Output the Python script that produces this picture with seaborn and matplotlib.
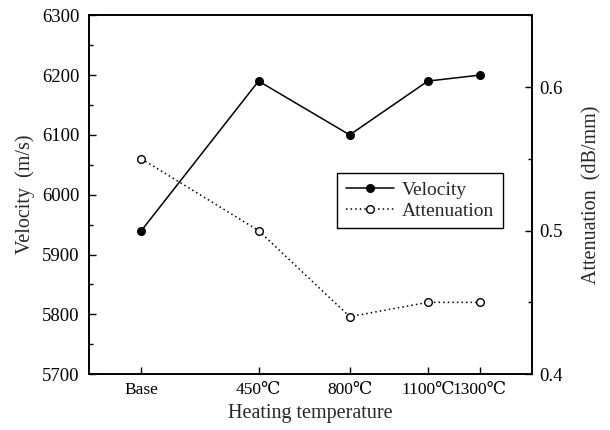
import matplotlib
matplotlib.use("Agg")
import matplotlib.pyplot as plt
import seaborn as sns
from matplotlib.ticker import MultipleLocator

# Heating temperature (Base = as-received, plotted at 0)
temps = [0, 450, 800, 1100, 1300]
tick_labels = ["Base", "450℃", "800℃", "1100℃", "1300℃"]
velocity = [5940, 6190, 6100, 6190, 6200]          # m/s
attenuation = [0.55, 0.50, 0.44, 0.45, 0.45]        # dB/mm

sns.set_style("white")
plt.rcParams["font.family"] = ["Liberation Serif", "DejaVu Serif"]
plt.rcParams["axes.linewidth"] = 1.2

fig = plt.figure(figsize=(6.1, 4.3), dpi=100)
ax = fig.add_axes([0.1464, 0.130, 0.7257, 0.8344])
ax2 = ax.twinx()

sns.lineplot(x=temps, y=velocity, ax=ax, color="black", linewidth=1.1,
             marker="o", markersize=5.5, markerfacecolor="black",
             markeredgecolor="black", markeredgewidth=1.0, label="Velocity",
             legend=False)
sns.lineplot(x=temps, y=attenuation, ax=ax2, color="black", linewidth=1.1,
             linestyle=(0, (1, 2)), marker="o", markersize=5.5,
             markerfacecolor="white", markeredgecolor="black",
             markeredgewidth=1.0, label="Attenuation", legend=False)

ax.set_xlim(-200, 1500)
ax.set_ylim(5700, 6300)
ax2.set_ylim(0.4, 0.65)

ax.set_xticks(temps)
ax.set_xticklabels(tick_labels)
ax.yaxis.set_major_locator(MultipleLocator(100))
ax.yaxis.set_minor_locator(MultipleLocator(50))
ax2.yaxis.set_major_locator(MultipleLocator(0.1))
ax2.yaxis.set_minor_locator(MultipleLocator(0.05))
ax2.yaxis.set_major_formatter(plt.FuncFormatter(lambda v, p: f"{v:.1f}"))

for a in (ax, ax2):
    for s in a.spines.values():
        s.set_color("black")
        s.set_linewidth(1.2)

ax.tick_params(axis="x", which="major", direction="in", length=5, width=1,
               labelsize=12.5, pad=6, top=False, bottom=True, colors="black")
ax.tick_params(axis="y", which="major", direction="in", length=5, width=1,
               labelsize=13.5, pad=7, left=True, right=False, colors="black")
ax.tick_params(axis="y", which="minor", direction="in", length=3, width=1,
               left=True, right=False, colors="black")
ax2.tick_params(axis="y", which="major", direction="in", length=5, width=1,
                labelsize=13.5, pad=5, colors="black")
ax2.tick_params(axis="y", which="minor", direction="in", length=3, width=1,
                colors="black")

ax.set_xlabel("Heating temperature", fontsize=14.5, labelpad=4)
ax.set_ylabel("Velocity  (m/s)", fontsize=14.5, labelpad=5)
ax2.set_ylabel("Attenuation  (dB/mm)", fontsize=14.5, labelpad=14)

h1, l1 = ax.get_legend_handles_labels()
h2, l2 = ax2.get_legend_handles_labels()
leg = ax2.legend(h1 + h2, l1 + l2, loc="upper left",
                 bbox_to_anchor=(0.559, 0.561), borderaxespad=0,
                 fontsize=14, frameon=True, fancybox=False,
                 edgecolor="black", framealpha=1, handlelength=2.5,
                 handletextpad=0.4, borderpad=0.45, labelspacing=0.15)
leg.get_frame().set_linewidth(1.0)

fig.savefig("out.png", dpi=100)
